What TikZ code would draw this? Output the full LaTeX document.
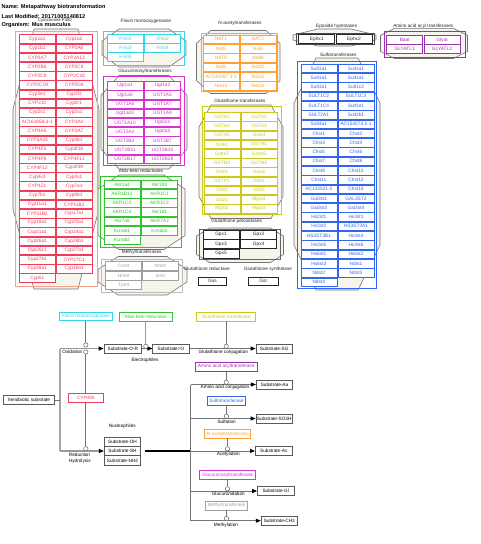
\documentclass[tikz,border=0pt]{standalone}
\usepackage{fontspec}
\setmainfont{Liberation Sans}
\usetikzlibrary{arrows.meta}
\definecolor{colP}{HTML}{F03C5A}
\definecolor{colPg}{HTML}{F5A08C}
\definecolor{colF}{HTML}{30D8EA}
\definecolor{colU}{HTML}{D633CC}
\definecolor{colA}{HTML}{33C233}
\definecolor{colM}{HTML}{A0A0A0}
\definecolor{colN}{HTML}{FFA033}
\definecolor{colG}{HTML}{C8C81E}
\definecolor{colS}{HTML}{3366EE}
\definecolor{colAA}{HTML}{9933AA}
\definecolor{hullfill}{HTML}{F6F4EC}
\newcommand\smallf{\fontsize{4.7}{5.2}\selectfont}
\newcommand\cellf{\fontsize{4.8}{5.2}\selectfont}
\tikzset{
  cell/.style={draw=#1, text=#1, fill=white, line width=0.5pt, minimum width=36pt, minimum height=8.6pt, inner sep=0pt, font=\cellf},
  hull/.style={draw=black!55, fill=hullfill, line width=0.6pt},
  grp/.style={draw=#1, line width=0.7pt},
  glabel/.style={font=\smallf, text=black!85, inner sep=0pt},
  pbox/.style={draw=#1, text=#1, fill=white, line width=0.6pt, minimum height=8.6pt, inner sep=0pt, font=\smallf},
  prod/.style={draw=black!65, text=black, fill=white, line width=0.6pt, minimum height=8.6pt, minimum width=36.5pt, inner sep=0pt, font=\smallf},
  anch/.style={circle, draw=black!60, fill=white, line width=0.5pt, minimum size=4.4pt, inner sep=0pt},
  conn/.style={draw=black!55, line width=0.8pt},
  arr/.style={conn, -{Triangle[length=5pt,width=4pt,color=black]}},
  lbl/.style={font=\smallf, inner sep=0pt},
  ttl/.style={anchor=west, font=\bfseries\fontsize{5.6}{6}\selectfont, inner sep=0pt}
}
\newcommand\octa[6]{\draw[hull] ({#1+#5},#2) -- ({#3-#5},#2) -- (#3,{#2+#6}) -- (#3,{#4-#6}) -- ({#3-#5},#4) -- ({#1+#5},#4) -- (#1,{#4-#6}) -- (#1,{#2+#6}) -- cycle;}
\newcommand\grid[7]{\foreach[count=\i from 0] \a/\b in {#7}{%
  \node[cell=#2] (#1-\i-l) at (#3,{#5+#6*\i}) {\a};
  \node[cell=#2] (#1-\i-r) at (#4,{#5+#6*\i}) {\b};}}
\begin{document}
\begin{tikzpicture}[x=1pt,y=-1pt]
\useasboundingbox (0,0) rectangle (480,544);

% ---------- hulls ----------
\octa{13}{29}{99}{289}{21}{80}
\octa{102}{29}{186}{67}{17}{12}
\octa{101}{75.5}{187}{169}{18}{20}
\octa{98}{175}{185}{249.5}{21}{14}
\octa{98}{256.5}{187}{295}{20}{13}
\octa{196.5}{30.5}{280}{93.5}{14}{13}
\octa{199}{105}{283}{218.5}{12}{22}
\octa{196.5}{228}{283.5}{262.5}{13}{8}
\octa{293}{29}{376}{46}{25}{6}
\octa{380.5}{28.3}{467.5}{58.5}{14}{7}
\octa{294}{58}{380}{290}{22}{45}

% ---------- group rectangles ----------
\draw[grp=colPg] (15,31) rectangle (97,286.7);
\draw[grp=colF] (103.3,31) rectangle (184.3,65);
\draw[grp=colU] (103,76.7) rectangle (184,165);
\draw[grp=colA] (100,176.7) rectangle (181,247.7);
\draw[grp=colM!70] (101.7,259) rectangle (182,292);
\draw[grp=colN] (201.7,33.3) rectangle (277.3,91);
\draw[grp=colG] (202.7,106) rectangle (281.7,214);
\draw[grp=black!60] (199.5,229) rectangle (280.5,259.5);
\draw[grp=black!70] (296,33.3) rectangle (374,44.3);
\draw[grp=colAA] (384,31.7) rectangle (465,57.3);
\draw[grp=colS] (297.3,61) rectangle (376.7,288.5);

% ---------- title ----------
\node[ttl] (t1) at (1.5,7.5) {Name: Metapathway biotransformation};
\node[ttl] (t2) at (1.5,16.7) {Last Modified: 20171005140812};
\node[ttl] (t3) at (1.5,25) {Organism: Mus musculus};

% ---------- group labels ----------
\node[glabel, font=\fontsize{4.2}{4.6}\selectfont] (l-cyp) at (55,20.6) {Cytochrome P450};
\node[glabel] (l-fmo) at (146,21) {Flavin monooxygenases};
\node[glabel] (l-ugt) at (145,71.7) {Glucuronosyltransferases};
\node[glabel] (l-akr) at (141,170.7) {Aldo-keto reductases};
\node[glabel] (l-mt) at (141.7,252.7) {Methyltransferases};
\node[glabel] (l-nat) at (240,23.3) {N-acetyltransferases};
\node[glabel] (l-gst) at (240,100.7) {Glutathione transferases};
\node[glabel] (l-gpx) at (236.7,221.7) {Glutathione peroxidases};
\node[glabel] (l-gsr) at (206.7,269.3) {Glutathione reductase};
\node[glabel] (l-gss) at (268,269.3) {Glutathione synthetase};
\node[glabel] (l-epx) at (336.7,26) {Epoxide hydrolases};
\node[glabel] (l-aat) at (423.3,26) {Amino acid acyl transferases};
\node[glabel] (l-sult) at (338.3,55) {Sulfotransferases};

% ---------- cells ----------
\grid{cyp}{colP}{37.3}{74.2}{39}{9.19}{Cyp1a1/Cyp1a2,Cyp1b1/CYP2A6,CYP2A7/CYP2A13,CYP2B6/CYP2C8,CYP2C9/CYP2C18,CYP2C19/CYP2D6,Cyp2e1/Cyp2f2,CYP2J2/Cyp2r1,Cyp2s1/Cyp2u1,AC161858.3-1/CYP3A4,CYP3A5/CYP3A7,CYP3A43/Cyp4b1,CYP4F2/Cyp4f18,CYP4F8/CYP4F11,CYP4F12/Cyp4f39,Cyp4v3/Cyp4x1,CYP4Z1/Cyp7a1,Cyp7b1/Cyp8b1,Cyp11a1/CYP11B1,CYP11B2/Cyp17a1,Cyp19a1/Cyp20a1,Cyp21a1/Cyp24a1,Cyp26a1/Cyp26b1,Cyp26c1/Cyp27a1,Cyp27b1/CYP27C1,Cyp39a1/Cyp46a1}
\node[cell=colP] (cyp-26-l) at (37.3,{39+9.19*26}) {Cyp51};

\grid{fmo}{colF}{125.5}{162.7}{38.8}{8.9}{Fmo1/Fmo2,Fmo3/Fmo4}
\node[cell=colF] (fmo-2-l) at (125.5,{38.8+8.9*2}) {Fmo5};

\grid{ugt}{colU}{125}{162.5}{85.7}{9.18}{Ugt1a1/Ugt1a2,Ugt1a5/UGT1A5,UGT1A6/UGT1A7,Ugt1a10/UGT1A9,UGT1A10/Ugt2a1,UGT2A2/Ugt2a3,UGT2B4/UGT2B7,UGT2B11/UGT2B15,UGT2B17/UGT2B28}

\grid{akr}{colA}{122}{159.5}{184.3}{9.23}{Akr1a4/Akr1b3,AKR1B10/AKR1C1,AKR1C2/AKR1C3,AKR1C4/Akr1d1,Akr7a5/AKR7A3,Kcnab1/Kcnab3}
\node[cell=colA] (akr-6-l) at (122,{184.3+9.23*6}) {Kcnab2};

\grid{mt}{colM}{123.7}{160.3}{266}{9.5}{Comt/Nnmt,Hnmt/Inmt}
\node[cell=colM] (mt-2-l) at (123.7,285) {Tpmt};

\grid{nat}{colN}{221}{258}{39.3}{9.34}{NAT1/NAT2,Nat5/Nat6,NAT8/Nat8l,Nat9/Nat10,AC140387.3-1/Nat12,Nat13/Nat14}

\grid{gst}{colG}{222}{259}{116.7}{9.2}{GSTA1/GSTA2,GSTA4/GSTA3,GSTA5/Gstcd,Gstk1/GSTM1,Gstm7/Gstm5,GSTM4/GSTM5,Gsto1/Gsto2,GSTP1/Gstt1,Gstt2/Gstt3,Gstz1/Mgst1,Mgst2/Mgst3}

\grid{gpx}{black!85}{221}{258.7}{234.5}{9.5}{Gpx1/Gpx2,Gpx3/Gpx4}
\node[cell=black!85] (gpx-2-l) at (221,253.5) {Gpx5};

\node[cell=black!85, minimum width=28pt, minimum height=7.6pt] (gss) at (212.5,281) {Gss};
\node[cell=black!85, minimum width=30pt, minimum height=7.6pt] (gsr) at (263.3,281) {Gsr};

\grid{epx}{black!85}{316.7}{354}{39}{9}{Ephx1/Ephx2}

\grid{aat}{colAA}{404.7}{442}{40}{8.5}{Baat/Glyat,GLYATL1/GLYATL2}

\grid{sult}{colS}{318.8}{356}{68.3}{9.295}{Sult1a1/Sult1a1,Sult1a1/Sult1a1,Sult1b1/Sult1c2,SULT1C2/SULT1C3,SULT1C4/Sult1e1,SULT2A1/Sult2b1,Sult4a1/AC154274.1-1,Chst1/Chst2,Chst3/Chst4,Chst5/Chst6,Chst7/Chst8,Chst9/Chst10,Chst11/Chst12,AC122521.4/Chst14,Gal3st1/GAL3ST2,Gal3st3/Gal3st4,Hs2st1/Hs3st1,Hs3st2/HS3ST3A1,HS3ST3B1/Hs3st4,Hs3st5/Hs3st6,Hs6st1/Hs6st2,Hs6st3/Ndst1,Ndst2/Ndst3}
\node[cell=colS] (sult-23-l) at (318.8,{68.3+9.295*23}) {Ndst4};

% ---------- pathway: enzymes ----------
\node[pbox=colF, minimum width=53pt] (fmoE) at (85.8,316.2) {Flavin monooxygenase};
\node[pbox=colA, minimum width=53pt] (akrE) at (145.8,316.5) {Aldo-keto reductase};
\node[pbox=colG, minimum width=59pt] (gstE) at (226.2,316.5) {Glutathione transferase};
\node[pbox=colP, minimum width=35.6pt] (cypE) at (85.8,397.5) {CYP450};
\node[pbox=colAA, minimum width=62.3pt] (aatE) at (226.2,366.7) {Amino acid acyltransferase};
\node[pbox=colS, minimum width=38.4pt] (sultE) at (226.5,400.5) {Sulfotransferase};
\node[pbox=colN, minimum width=46.4pt] (natE) at (227.5,433.8) {N-acetyltransferase};
\node[pbox=colU, minimum width=56.4pt] (ugtE) at (227.5,475) {Glucuronosyltransferase};
\node[pbox=colM, minimum width=41.6pt] (mtE) at (226.5,505.5) {Methyltransferase};

% ---------- pathway: metabolites ----------
\node[prod, minimum width=51pt] (xeno) at (28.8,400) {Xenobiotic substrate};
\node[prod, minimum width=37.7pt] (sor) at (122.8,348.5) {Substrate-O-R};
\node[prod] (so) at (171,348.5) {Substrate=O};
\node[prod] (ssg) at (274.2,348.5) {Substrate-SG};
\node[prod, minimum height=9.4pt] (soh) at (122.5,441.6) {Substrate-OH};
\node[prod, minimum height=9.4pt] (ssh) at (122.5,451) {Substrate-SH};
\node[prod, minimum height=9.4pt] (snh) at (122.5,460.4) {Substrate-NH2};
\node[prod] (saa) at (274.5,384.5) {Substrate-Aa};
\node[prod] (sso) at (274.2,418.5) {Substrate-SO3H};
\node[prod, minimum width=37pt] (sac) at (273.8,451) {Substrate-Ac};
\node[prod] (sgl) at (275.7,491) {Substrate-Gl};
\node[prod] (sch) at (279.3,520.7) {Substrate-CH3};

% ---------- junction coordinates ----------
\coordinate (j0) at (60,400);
\coordinate (j1) at (60,348.5);
\coordinate (j2) at (60,451);
\coordinate (r0) at (190.7,451);
\coordinate (r1) at (190.7,384.5);
\coordinate (r2) at (190.7,418.5);
\coordinate (r4) at (190.7,491);
\coordinate (r5) at (190.7,520.7);

% ---------- connectors ----------
\draw[draw=black!35, line width=1.4pt] (j1) -- (j2);
\draw[conn] (xeno) -- (j0);
\draw[arr, draw=black!40, line width=1.1pt] (j1) -- (sor);
\draw[arr, draw=black!40, line width=1.1pt] (j2) -- (ssh);
\draw[arr] (sor) -- (so);
\draw[arr] (so) -- (ssg);
\draw[line width=1.4pt, black] ([xshift=3.5pt]ssh.east) -- (r0);
\draw[conn] (r1) -- (r5);
\draw[arr] (r1) -- (saa);
\draw[arr] (r2) -- (sso);
\draw[arr] (r0) -- (sac);
\draw[arr] (r4) -- (sgl);
\draw[arr] (r5) -- (sch);

% ---------- anchors ----------
\node[anch] (a1) at (85.8,345) {};
\node[anch] (a2) at (85.8,352) {};
\node[anch] (a3) at (85.8,448.7) {};
\node[anch] (a4) at (145.8,346.3) {};
\node[anch] (a5) at (226.2,346.3) {};
\node[anch] (b1) at (226.2,382.3) {};
\node[anch] (b2) at (226.5,416.3) {};
\node[anch] (b3) at (227.5,448.8) {};
\node[anch] (b4) at (227.5,488.8) {};
\node[anch] (b5) at (226.5,518.5) {};

\draw[conn] (fmoE) -- (a1);
\draw[conn] (cypE) -- (a2);
\draw[conn] (cypE) -- (a3);
\draw[conn, line width=1.2pt, draw=black!40] (akrE) -- (a4);
\draw[conn] (gstE) -- (a5);
\draw[conn] (aatE) -- (b1);
\draw[conn] (sultE) -- (b2);
\draw[conn] (natE) -- (b3);
\draw[conn] (ugtE) -- (b4);
\draw[conn] (mtE) -- (b5);

% ---------- pathway labels ----------
\node[lbl, anchor=east] (oxl) at (82.5,351.7) {Oxidation};
\node[lbl] (elec) at (145,360.7) {Electrophiles};
\node[lbl] (nucl) at (122.3,426) {Nucleophiles};
\node[lbl] (redl) at (79.5,455.2) {Reduction};
\node[lbl] (hydl) at (79.8,460.8) {Hydrolysis};
\node[lbl] (gcl) at (223.3,351.8) {Glutathione conjugation};
\node[lbl] (aacl) at (225,387.6) {Amino acid conjugation};
\node[lbl] (sull) at (226.7,421.5) {Sulfation};
\node[lbl] (acl) at (228.3,454) {Acetylation};
\node[lbl] (gll) at (228.3,493.5) {Glucuronidation};
\node[lbl] (mel) at (226,524.8) {Methylation};
\end{tikzpicture}
\end{document}
